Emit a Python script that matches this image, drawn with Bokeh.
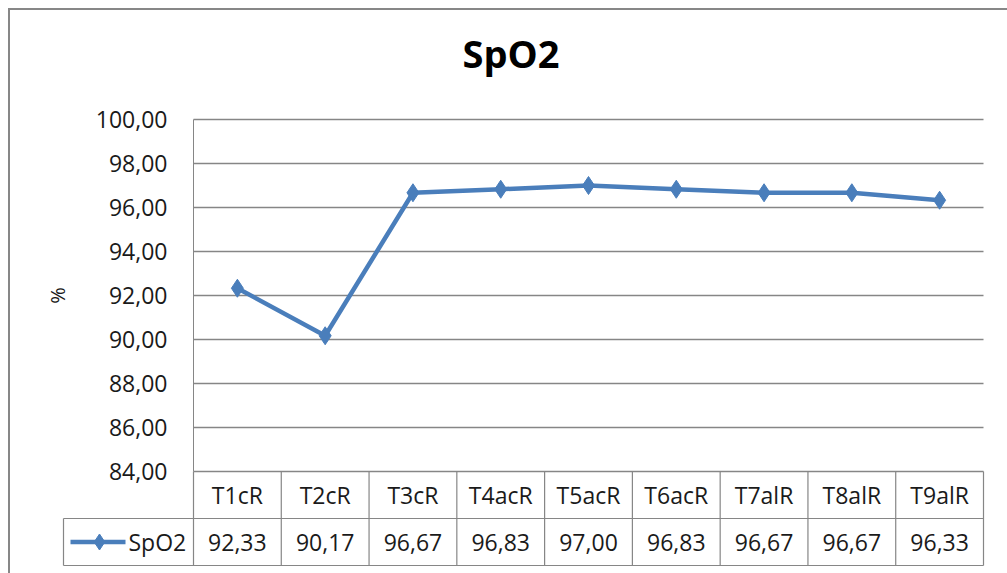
from bokeh.plotting import figure
from bokeh.layouts import column
from bokeh.models import Range1d, FixedTicker, CustomJSTickFormatter, LinearAxis
from bokeh.core.properties import value
from bokeh.embed import file_html
from bokeh.resources import INLINE

# ---------------- data ----------------
title_text = "SpO2"
series_name = "SpO2"
categories = ["T1cR", "T2cR", "T3cR", "T4acR", "T5acR", "T6acR", "T7alR", "T8alR", "T9alR"]
spo2 = [92.33, 90.17, 96.67, 96.83, 97.00, 96.83, 96.67, 96.67, 96.33]
y_ticks = [84, 86, 88, 90, 92, 94, 96, 98, 100]
y_label = "%"

# ---------------- style / geometry ----------------
BLUE = "#4A7EBB"
GRID = "#868686"
FONT = "Open Sans"
FS = "23px"
TXT = "#1a1a1a"

n = len(categories)
xs = list(range(1, n + 1))
fmt = lambda v: f"{v:.2f}".replace(".", ",")

W, H = 997, 563
FRAME_W = 790                 # width of plotting area (pixels)
upp = n / FRAME_W             # category units per pixel
PX_PER_Y = 22                 # pixels per y unit
ROW = 47                      # table row height (pixels)
LEFT_PAD, RIGHT_PAD = 160, 4  # frame extension beyond plotting area
TOP_PAD = 29
TABLE_H = 2 * ROW + 4         # frame extension below plotting area
MB_LEFT = 183 - LEFT_PAD
MB_TOP = 80

y0, y1 = y_ticks[0], y_ticks[-1]
p = figure(width=W, height=H,
           x_range=Range1d(0.5 - LEFT_PAD * upp, n + 0.5 + RIGHT_PAD * upp),
           y_range=Range1d(y0 - TABLE_H / PX_PER_Y, y1 + TOP_PAD / PX_PER_Y),
           output_backend="svg", toolbar_location=None,
           x_axis_location=None, y_axis_location=None,
           min_border_left=MB_LEFT, min_border_right=20, min_border_top=MB_TOP, min_border_bottom=4)
span_px = (y1 - y0) * PX_PER_Y
p.extra_y_ranges = {"table": Range1d(-4 / ROW, 2 + (span_px + TOP_PAD) / ROW)}
p.outline_line_color = None
p.xgrid.visible = False
p.ygrid.visible = False
p.background_fill_color = "white"
p.border_fill_color = "white"

p.title.text = title_text
p.title.align = "left"
p.title.offset = 462 - 10 - MB_LEFT
p.title.standoff = 24
p.title.text_font = FONT
p.title.text_font_size = "38px"
p.title.text_font_style = "bold"
p.title.text_color = "black"

ax = LinearAxis(fixed_location=0.5, bounds=(y0, y1))
ax.ticker = FixedTicker(ticks=y_ticks)
ax.formatter = CustomJSTickFormatter(code="return tick.toFixed(2).replace('.', ',')")
ax.major_tick_line_color = None
ax.minor_tick_line_color = None
ax.major_tick_out = 0
ax.major_tick_in = 0
ax.major_label_standoff = 26
ax.major_label_text_font = FONT
ax.major_label_text_font_size = FS
ax.major_label_text_color = TXT
ax.axis_line_color = GRID
ax.axis_line_width = 1
ax.axis_label = y_label
ax.axis_label_text_font = FONT
ax.axis_label_text_font_size = "20px"
ax.axis_label_text_font_style = "normal"
ax.axis_label_text_color = TXT
ax.axis_label_standoff = 22
p.add_layout(ax, "left")

# horizontal gridlines across the plotting area
p.segment(x0=[0.5] * len(y_ticks), y0=y_ticks, x1=[n + 0.5] * len(y_ticks), y1=y_ticks,
          line_color=GRID, line_width=1.5)

# series
p.line(xs, spo2, line_width=4.5, color=BLUE)
p.scatter(xs, spo2, marker="diamond", size=18, color=BLUE)

# ---------------- data table ----------------
leg_left = 0.5 - 130 * upp
vx = [0.5 + i for i in range(n + 1)]
p.segment(x0=vx, y0=[0] * len(vx), x1=vx, y1=[2] * len(vx), line_color=GRID, line_width=1.2,
          y_range_name="table")
p.segment(x0=[leg_left, leg_left, leg_left], y0=[0, 1, 0], x1=[leg_left, n + 0.5, n + 0.5], y1=[1, 1, 0],
          line_color=GRID, line_width=1.2, y_range_name="table")

p.text(x=xs, y=[1.5] * n, text=categories, text_align="center", text_baseline="middle",
       text_font=value(FONT), text_font_size=FS, text_color=TXT, y_range_name="table")
p.text(x=xs, y=[0.5] * n, text=[fmt(v) for v in spo2], text_align="center", text_baseline="middle",
       text_font=value(FONT), text_font_size=FS, text_color=TXT, y_range_name="table")

# legend key in the table
p.segment(x0=[leg_left + 7 * upp], y0=[0.5], x1=[leg_left + 62 * upp], y1=[0.5],
          line_color=BLUE, line_width=4.5, y_range_name="table")
p.scatter([leg_left + 36 * upp], [0.5], marker="diamond", size=16, color=BLUE, y_range_name="table")
p.text(x=[leg_left + 65 * upp], y=[0.5], text=[series_name], text_align="left", text_baseline="middle",
       text_font=value(FONT), text_font_size=FS, text_color=TXT, y_range_name="table")

layout = column(p, spacing=0,
                styles={"margin-left": "8px", "margin-top": "8px",
                        "border-left": "2px solid #878787", "border-top": "2px solid #878787"})

open("out.html", "w").write(file_html(layout, INLINE))
